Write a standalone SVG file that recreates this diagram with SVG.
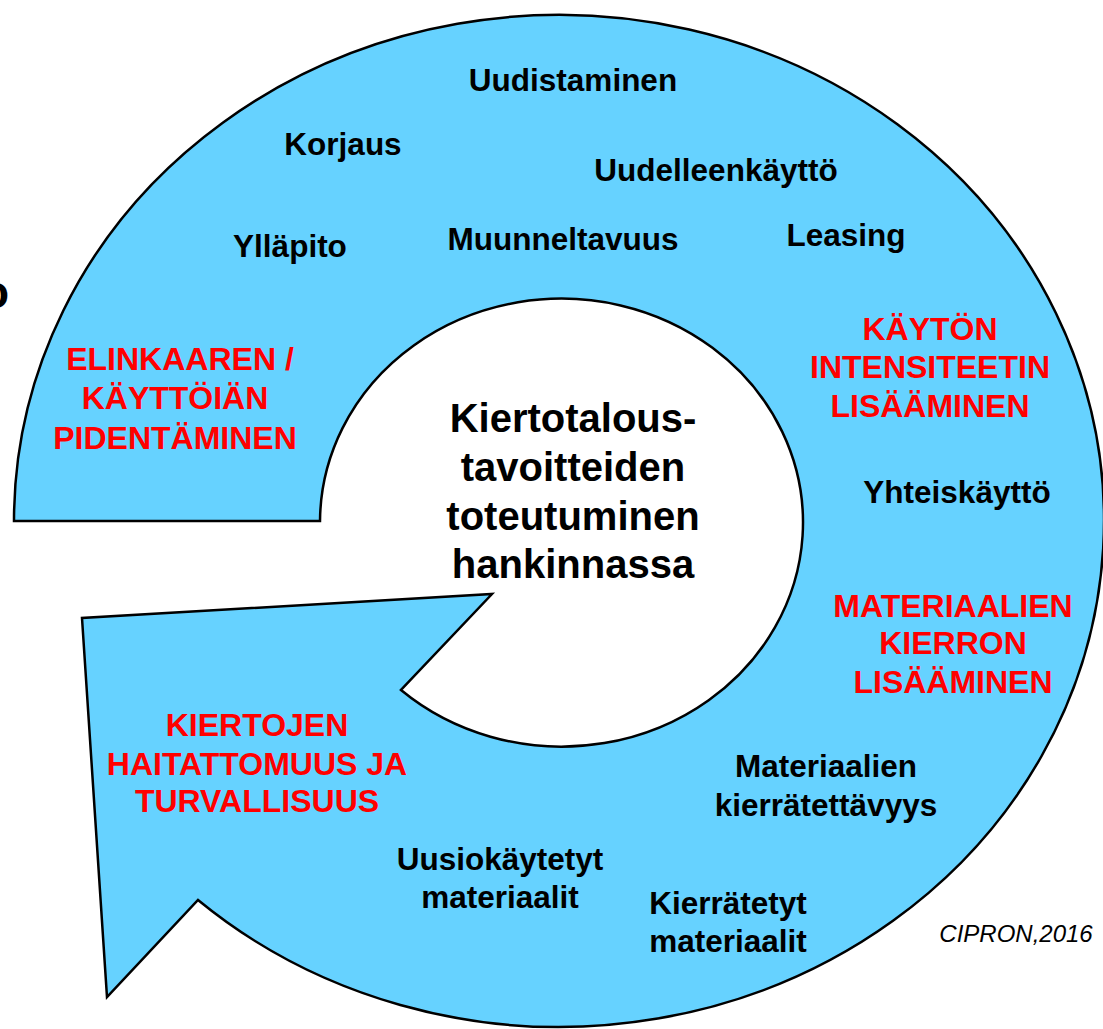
<svg xmlns="http://www.w3.org/2000/svg" width="1103" height="1029" viewBox="0 0 1103 1029">
<style>
  text { font-family: "Liberation Sans", Arial, sans-serif; font-weight: bold; text-anchor: middle; }
  .blk { fill: #000; font-size: 31.5px; }
  .red { fill: #FF0000; font-size: 32px; }
  .ctr { fill: #000; font-size: 40px; }
  .cap { fill: #000; font-size: 24px; font-weight: normal; font-style: italic; }
</style>
<rect width="1103" height="1029" fill="#FFFFFF"/>
<g id="arrow">
  <path d="M 14 521 A 545 506 0 1 1 198 900 L 107 997 L 82 618 L 492 594 L 401 690 A 241.5 224 0 1 0 320 521 Z" fill="#66D2FF" stroke="#000" stroke-width="2.5" stroke-linejoin="miter"/>
</g>
<g id="stray">
  <text x="-19" y="308" style="font-size:46px;text-anchor:start;fill:#000">o</text>
</g>
<g id="center">
  <text class="ctr" x="573" y="432">Kiertotalous-</text>
  <text class="ctr" x="573" y="481">tavoitteiden</text>
  <text class="ctr" x="573" y="530">toteutuminen</text>
  <text class="ctr" x="573" y="578">hankinnassa</text>
</g>
<g id="elinkaari">
  <text class="red" x="180" y="370">ELINKAAREN /</text>
  <text class="red" x="175" y="409">KÄYTTÖIÄN</text>
  <text class="red" x="175" y="449">PIDENTÄMINEN</text>
</g>
<g id="kaytto">
  <text class="red" x="930" y="340">KÄYTÖN</text>
  <text class="red" x="930" y="378">INTENSITEETIN</text>
  <text class="red" x="930" y="417">LISÄÄMINEN</text>
</g>
<g id="materiaali">
  <text class="red" x="953" y="617">MATERIAALIEN</text>
  <text class="red" x="953" y="654">KIERRON</text>
  <text class="red" x="953" y="693">LISÄÄMINEN</text>
</g>
<g id="kierto">
  <text class="red" x="257" y="736">KIERTOJEN</text>
  <text class="red" x="257" y="775">HAITATTOMUUS JA</text>
  <text class="red" x="257" y="812">TURVALLISUUS</text>
</g>
<g id="labels">
  <text class="blk" x="573" y="91">Uudistaminen</text>
  <text class="blk" x="343" y="155">Korjaus</text>
  <text class="blk" x="716" y="181">Uudelleenkäyttö</text>
  <text class="blk" x="290" y="257">Ylläpito</text>
  <text class="blk" x="563" y="250">Muunneltavuus</text>
  <text class="blk" x="846" y="246">Leasing</text>
  <text class="blk" x="957" y="503">Yhteiskäyttö</text>
  <text class="blk" x="826" y="777">Materiaalien</text>
  <text class="blk" x="826" y="816">kierrätettävyys</text>
  <text class="blk" x="500" y="870">Uusiokäytetyt</text>
  <text class="blk" x="500" y="908">materiaalit</text>
  <text class="blk" x="728" y="914">Kierrätetyt</text>
  <text class="blk" x="728" y="952">materiaalit</text>
</g>
<g id="credit">
  <text class="cap" x="1016" y="942">CIPRON,2016</text>
</g>
</svg>
